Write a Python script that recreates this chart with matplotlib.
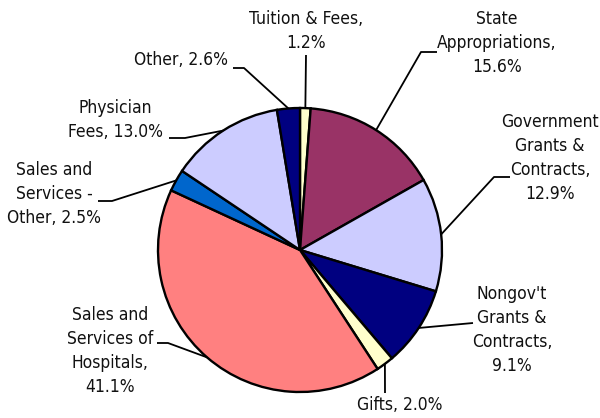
import numpy as np
import matplotlib.pyplot as plt
from matplotlib import font_manager

labels = ["Tuition & Fees,\n1.2%", "State\nAppropriations,\n15.6%",
          "Government\nGrants &\nContracts,\n12.9%", "Nongov't\nGrants &\nContracts,\n9.1%",
          "Gifts, 2.0%", "Sales and\nServices of\nHospitals,\n41.1%",
          "Sales and\nServices -\nOther, 2.5%", "Physician\nFees, 13.0%", "Other, 2.6%"]
shares = [1.2, 15.6, 12.9, 9.1, 2.0, 41.1, 2.5, 13.0, 2.6]
colors = ["#FFFFCC", "#993366", "#CCCCFF", "#000080", "#FFFFCC",
          "#FF8080", "#0066CC", "#CCCCFF", "#000080"]

H = 418
# label centre (x, y from top), leader start, optional elbow
label_pos = [(306, 31), (497, 43), (550, 158), (512, 330), (400, 405),
             (110, 351), (54, 194), (115, 120), (181, 60)]
leaders = [((306, 55), None), ((437, 52), (421, 52)), ((510, 177), (494, 177)),
           ((473, 323), None), ((385, 393), None), ((157, 343), (168, 343)),
           ((98, 201), (112, 201)), ((169, 138), (185, 138)), ((233, 68), (244, 68))]

# narrow font if one is around
fp = font_manager.FontProperties(family='DejaVu Sans', stretch='condensed')
path = font_manager.findfont(fp, fallback_to_default=False)
if 'Condensed' in path:
    font = dict(family='DejaVu Sans', stretch='condensed', fontsize=12.5)
else:
    font = dict(family='Liberation Sans', fontsize=12.5)

fig = plt.figure(figsize=(6, 4.18), dpi=100)
ax = fig.add_axes([0, 0, 1, 1])

cx, cy, r = 300, H - 250, 142
wedges, _ = ax.pie(shares, colors=colors, startangle=90, counterclock=False,
                   center=(cx, cy), radius=r, frame=True,
                   wedgeprops=dict(edgecolor='black', linewidth=1.7))
ax.set_xlim(0, 600)
ax.set_ylim(0, H)
ax.set_aspect('equal')
ax.axis('off')

for w, lab, (tx, ty), (start, elbow) in zip(wedges, labels, label_pos, leaders):
    ang = np.deg2rad((w.theta1 + w.theta2) / 2)
    ex, ey = cx + r * np.cos(ang), cy + r * np.sin(ang)
    pts = [(start[0], H - start[1])]
    if elbow:
        pts.append((elbow[0], H - elbow[1]))
    pts.append((ex, ey))
    xs, ys = zip(*pts)
    ax.plot(xs, ys, color='black', lw=1.3, solid_capstyle='butt', zorder=1)
    ax.text(tx, H - ty, lab, ha='center', va='center', linespacing=1.42,
            color='#111111', **font)

fig.savefig('out.png', dpi=100)
